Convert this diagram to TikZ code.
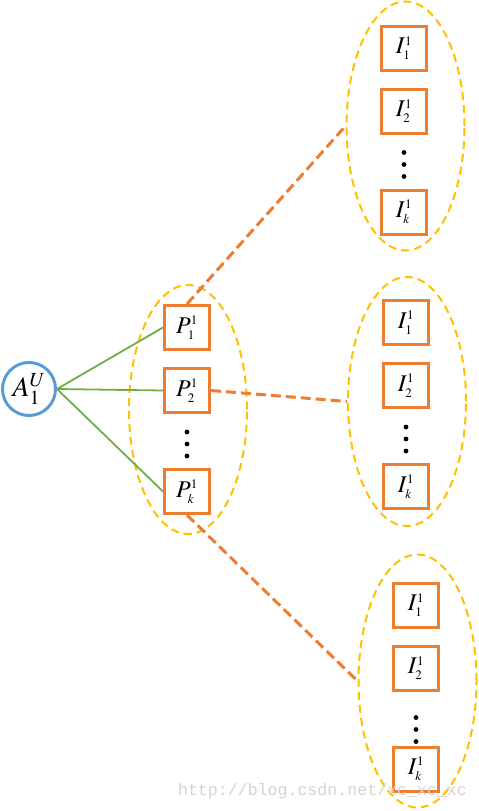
\documentclass[tikz,border=0pt]{standalone}
\usepackage{mathptmx}
\usepackage[no-math]{fontspec}
\setmainfont{Liberation Serif}
\newfontfamily\wmfont{Liberation Mono}
\usetikzlibrary{positioning,shapes.geometric}
\DeclareMathSizes{24}{24}{13}{10}
\DeclareMathSizes{28}{28}{20}{14}
\definecolor{boxorange}{HTML}{ED7D31}
\definecolor{setyellow}{HTML}{FFC000}
\definecolor{edgegreen}{HTML}{70AD47}
\definecolor{circblue}{HTML}{5B9BD5}
\definecolor{wmgray}{HTML}{D6D3CD}
\begin{document}
\begin{tikzpicture}[
                            x=1pt, y=-1pt,
                            box/.style={rectangle, draw=boxorange, line width=3pt, minimum width=45pt, minimum height=44pt, inner sep=0pt, font=\fontsize{24}{28}\selectfont},
                            group/.style={ellipse, draw=setyellow, line width=2pt, dash pattern=on 8pt off 5pt, minimum width=118pt, minimum height=249pt, inner sep=0pt},
                            link/.style={draw=boxorange, line width=3pt, dash pattern=on 10pt off 5pt},
                            edge/.style={draw=edgegreen, line width=1.8pt}
                        ]
                        \useasboundingbox (0,0) rectangle (479,811);
                        % Sets
                        \node [group] (Pset) at (188,409.5) {};
                        \node [group] (Iset1) at (405.5,126) {};
                        \node [group] (Iset2) at (407,401.5) {};
                        \node [group, minimum height=253pt] (Iset3) at (417.5,681) {};

                        % Blocks
                        \node [circle, draw=circblue, line width=3pt, minimum size=53pt, inner sep=0pt, font=\fontsize{28}{32}\selectfont] (Au) at (29,389) {$A_1^U$};
                        \node [box] (P1) at (187,327.5) {$P_1^1$};
                        \node [box, below=16pt of P1] (P2) {$P_2^1$};
                        \node [box, below=54pt of P2] (Pk) {$P_k^1$};
                        \coordinate [below=30pt of P2] (Pdots);

                        \node [box] (I11) at (404,48) {$I_1^1$};
                        \node [box, below=16pt of I11] (I12) {$I_2^1$};
                        \node [box, below=54pt of I12] (I1k) {$I_k^1$};
                        \coordinate [below=30pt of I12] (I1dots);

                        \node [box] (I21) at (406,322.5) {$I_1^1$};
                        \node [box, below=16pt of I21] (I22) {$I_2^1$};
                        \node [box, below=54pt of I22] (I2k) {$I_k^1$};
                        \coordinate [below=30pt of I22] (I2dots);

                        \node [box] (I31) at (416,605) {$I_1^1$};
                        \node [box, below=16pt of I31] (I32) {$I_2^1$};
                        \node [box, below=54pt of I32] (I3k) {$I_k^1$};
                        \coordinate [below=38pt of I32] (I3dots);

                        \foreach \d in {Pdots,I1dots,I2dots,I3dots}
                            \foreach \s in {-12,0,12}
                                \fill ([yshift=\s pt]\d) circle (2.4pt);

                        % Connections
                        \draw [edge] (Au.east) -- (P1.west);
                        \draw [edge] (Au.east) -- (P2.west);
                        \draw [edge] (Au.east) -- (Pk.west);
                        \draw [link] (P1.north) -- (Iset1.west);
                        \draw [link] (P2.east) -- (Iset2.west);
                        \draw [link] (Pk.south) -- (Iset3.west);

                        \node [text=wmgray, font=\wmfont\fontsize{16.6}{18}\selectfont] (mark) at (322.5,791) {http://blog.csdn.net/xc\_xc\_xc};
                    \end{tikzpicture}
\end{document}
